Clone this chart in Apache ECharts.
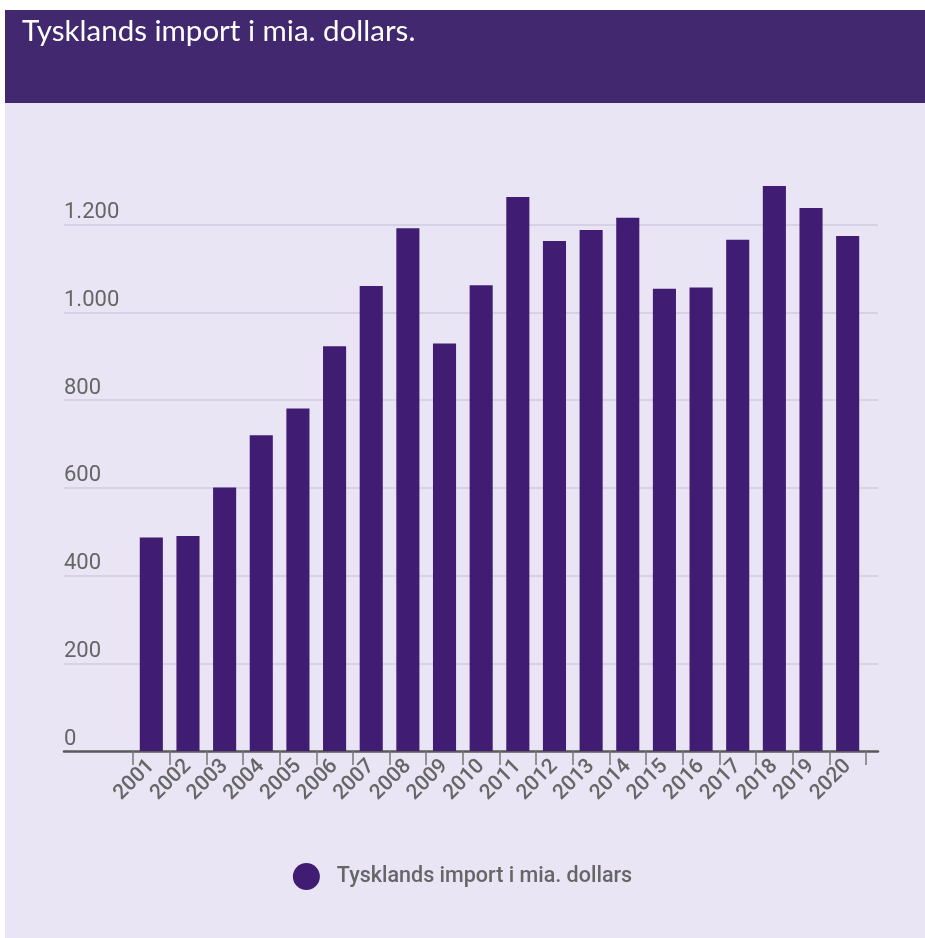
<!DOCTYPE html>
<html><head><meta charset="utf-8">
<script src="https://cdn.jsdelivr.net/npm/echarts@6/dist/echarts.min.js"></script>
<style>
html,body{margin:0;padding:0;background:#fff;}
#bg{position:absolute;left:5px;top:10px;width:920px;height:928px;background:#e9e5f5;}
#band{position:absolute;left:5px;top:10px;width:920px;height:93px;background:#42286e;}
#chart{position:absolute;left:0;top:0;width:925px;height:938px;}
</style></head><body>
<div id="bg"></div><div id="band"></div><div id="chart"></div>
<script>
const titleText = 'Tysklands import i mia. dollars.';
const seriesName = 'Tysklands import i mia. dollars';
const years = ['2001','2002','2003','2004','2005','2006','2007','2008','2009','2010',
               '2011','2012','2013','2014','2015','2016','2017','2018','2019','2020'];
const imports = [487, 490, 601, 720, 781, 923, 1060, 1192, 929, 1062,
                 1263, 1163, 1188, 1216, 1054, 1057, 1166, 1288, 1238, 1174];
const yMin = 0, yMax = 1400, yStep = 200;

function fmt(v){
  if (v >= 1000) return Math.floor(v/1000) + '.' + String(v % 1000).padStart(3,'0');
  return String(v);
}

const chart = echarts.init(document.getElementById('chart'), null, {renderer:'canvas'});
const gridTop = 137, gridBottom = 187;
chart.setOption({
  backgroundColor: 'transparent',
  animation: false,
  title: {
    text: titleText, left: 17, top: 11,
    textStyle: {color:'#ffffff', fontFamily:'Lato', fontSize:29.5, fontWeight:'normal'}
  },
  legend: {
    data: [seriesName], left: 'center', top: 858,
    icon: 'circle', itemWidth: 27, itemHeight: 27,
    textStyle: {color:'#666666', fontFamily:'Roboto', fontSize:21.5, fontWeight:500, padding:[0,0,0,12]}
  },
  grid: [
    {left: 64, right: 47, top: gridTop, bottom: gridBottom},
    {left: 133, right: 59, top: gridTop, bottom: gridBottom}
  ],
  xAxis: [
    {type:'value', gridIndex:0, min:0, max:1,
     axisLine:{show:true, onZero:false, lineStyle:{color:'#5a5a5a', width:2.5}},
     axisTick:{show:false}, axisLabel:{show:false}, splitLine:{show:false}},
    {type:'category', gridIndex:1, data: years, boundaryGap:true,
     axisLine:{show:false},
     axisTick:{show:true, length:14, lineStyle:{color:'#777777', width:1.5}},
     axisLabel:{rotate:45, margin:12, color:'#666666', fontFamily:'Roboto', fontSize:21, fontWeight:500, interval:0}}
  ],
  yAxis: [
    {type:'value', gridIndex:0, min:yMin, max:yMax, interval:yStep,
     axisLine:{show:false}, axisTick:{show:false},
     axisLabel:{inside:true, margin:0, align:'left', verticalAlign:'bottom', padding:[0,0,1,0],
       color:'#666666', fontFamily:'Roboto', fontSize:22, showMaxLabel:false, formatter: fmt},
     splitLine:{show:true, showMinLine:false, showMaxLine:false, lineStyle:{color:'#d6d1e4', width:2}}},
    {type:'value', gridIndex:1, min:yMin, max:yMax, interval:yStep, show:false}
  ],
  series: [{
    name: seriesName, type:'bar', xAxisIndex:1, yAxisIndex:1,
    data: imports, barWidth:'63%',
    itemStyle:{color:'#411c73'}
  }]
});
</script>
</body></html>
